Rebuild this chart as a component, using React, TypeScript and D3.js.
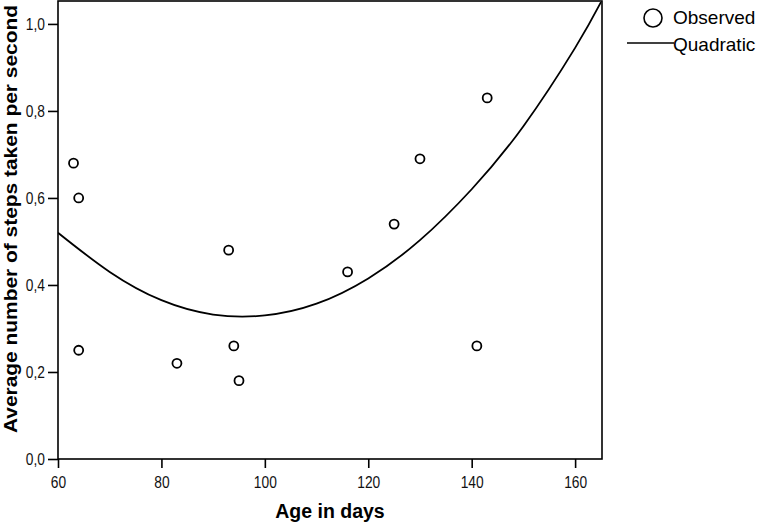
import * as d3 from 'd3';
import { useRef, useEffect } from 'react';

// observed points (age in days, steps per second)
const ages = [63, 64, 64, 83, 93, 94, 95, 116, 125, 130, 141, 143];
const steps = [0.68, 0.6, 0.25, 0.22, 0.48, 0.26, 0.18, 0.43, 0.54, 0.69, 0.26, 0.83];

// quadratic fit line
const fitAges = [60, 70, 80, 90, 100, 110, 120, 130, 140, 150, 160, 165];
const fitSteps = [0.52, 0.43, 0.365, 0.332, 0.33, 0.357, 0.415, 0.503, 0.62, 0.765, 0.945, 1.05];

const xTicks = [60, 80, 100, 120, 140, 160];
const yTicks = [0, 0.2, 0.4, 0.6, 0.8, 1.0];

export default function App() {
  const ref = useRef<SVGSVGElement>(null);

  useEffect(() => {
    const width = 758;
    const height = 524;
    const left = 58, right = 602, top = 1, bottom = 459;
    const font = '"Liberation Sans", Arial, sans-serif';

    const svg = d3.select(ref.current);
    svg.selectAll('*').remove();
    svg.attr('width', width).attr('height', height);

    const x = d3.scaleLinear().domain([60, 165.2]).range([left, right]);
    const y = d3.scaleLinear().domain([0, 1.0527]).range([bottom, top]);

    svg.append('defs').append('clipPath').attr('id', 'plot')
      .append('rect')
      .attr('x', left).attr('y', top)
      .attr('width', right - left).attr('height', bottom - top);

    // frame
    svg.append('rect')
      .attr('x', left).attr('y', top)
      .attr('width', right - left).attr('height', bottom - top)
      .attr('fill', 'none')
      .attr('stroke', '#000')
      .attr('stroke-width', 1.6);

    // narrow the tick labels a bit, like the original
    const squeeze = (g: any) => g.selectAll('text').each(function (this: SVGTextElement) {
      const w = this.getComputedTextLength();
      d3.select(this).attr('textLength', w * 0.86).attr('lengthAdjust', 'spacingAndGlyphs');
    });

    // Eje X
    const fmtComma = d3.format('.1f');
    svg.append('g')
      .attr('transform', `translate(0,${bottom})`)
      .call(d3.axisBottom(x).tickValues(xTicks).tickSize(9).tickPadding(9).tickFormat(d3.format('d')))
      .call(g => g.select('.domain').remove())
      .call(g => g.selectAll('line').attr('stroke-width', 1.6))
      .call(g => g.selectAll('text').attr('font-family', font).attr('font-size', 16).attr('fill', '#111'))
      .call(squeeze);

    // Eje Y
    svg.append('g')
      .attr('transform', `translate(${left},0)`)
      .call(d3.axisLeft(y).tickValues(yTicks).tickSize(10).tickPadding(3)
        .tickFormat(d => fmtComma(d as number).replace('.', ',')))
      .call(g => g.select('.domain').remove())
      .call(g => g.selectAll('line').attr('stroke-width', 1.6))
      .call(g => g.selectAll('text').attr('font-family', font).attr('font-size', 16).attr('fill', '#111'))
      .call(squeeze);

    // curva cuadratica
    const line = d3.line<number>()
      .x((_, i) => x(fitAges[i]))
      .y(d => y(d))
      .curve(d3.curveNatural);

    svg.append('path')
      .datum(fitSteps)
      .attr('clip-path', 'url(#plot)')
      .attr('fill', 'none')
      .attr('stroke', '#000')
      .attr('stroke-width', 1.8)
      .attr('d', line);

    // puntos observados
    svg.append('g')
      .selectAll('circle')
      .data(steps)
      .join('circle')
      .attr('cx', (_, i) => x(ages[i]))
      .attr('cy', d => y(d))
      .attr('r', 4.5)
      .attr('fill', 'none')
      .attr('stroke', '#000')
      .attr('stroke-width', 1.8);

    // axis titles
    svg.append('text')
      .attr('x', (left + right) / 2)
      .attr('y', 518)
      .attr('text-anchor', 'middle')
      .attr('font-family', font)
      .attr('font-weight', 'bold')
      .attr('font-size', 19.5)
      .text('Age in days');

    svg.append('text')
      .attr('transform', `translate(17,219) rotate(-90)`)
      .attr('text-anchor', 'middle')
      .attr('font-family', font)
      .attr('font-weight', 'bold')
      .attr('font-size', 19)
      .attr('textLength', 428)
      .attr('lengthAdjust', 'spacingAndGlyphs')
      .text('Average number of steps taken per second');

    // legend
    const legend = svg.append('g');
    legend.append('circle')
      .attr('cx', 653).attr('cy', 18).attr('r', 9)
      .attr('fill', 'none').attr('stroke', '#000').attr('stroke-width', 1.6);
    legend.append('text')
      .attr('x', 673).attr('y', 24)
      .attr('font-family', font).attr('font-size', 19)
      .text('Observed');
    legend.append('line')
      .attr('x1', 627).attr('x2', 674).attr('y1', 43).attr('y2', 43)
      .attr('stroke', '#000').attr('stroke-width', 1.6);
    legend.append('text')
      .attr('x', 673).attr('y', 51)
      .attr('font-family', font).attr('font-size', 19)
      .text('Quadratic');
  }, []);

  return (
    <svg ref={ref} style={{ position: 'absolute', left: 0, top: 0 }}></svg>
  );
}
